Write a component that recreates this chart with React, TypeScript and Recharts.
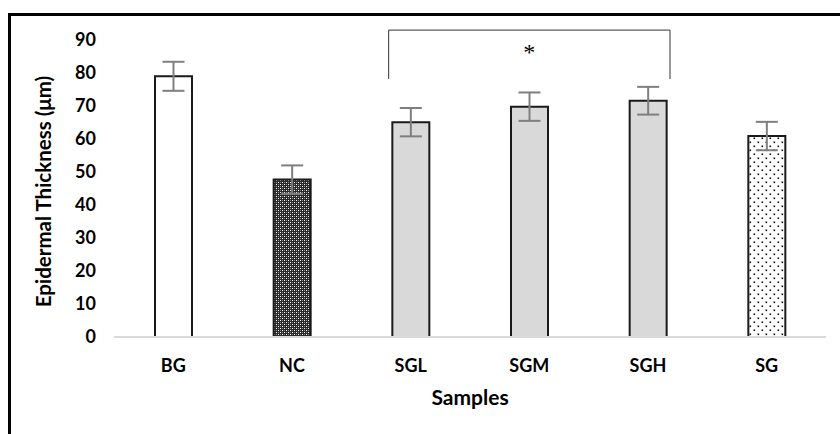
import React from "react"
import {
  Bar,
  BarChart,
  Cell,
  ErrorBar,
  Label,
  ReferenceDot,
  ReferenceLine,
  XAxis,
  YAxis,
} from "recharts"

// 샘플별 표피 두께 (μm) — 그림에서 읽은 값
const categories = ["BG", "NC", "SGL", "SGM", "SGH", "SG"]
const means = [79.0, 47.7, 65.1, 69.8, 71.6, 60.9]
const errors = [4.4, 4.3, 4.3, 4.3, 4.2, 4.3]
const yTicks = [0, 10, 20, 30, 40, 50, 60, 70, 80, 90]

// 유의성 표시 (SGL ~ SGH 구간)
const bracketFrom = "SGL"
const bracketTo = "SGH"
const starAt = "SGM"
const bracketTop = 93
const bracketLegBottom = 78.2
const starY = 87.6

const FONT = "Lato, 'Open Sans', sans-serif"
const WIDTH = 840
const HEIGHT = 434
const BRACKET_PAD = 22 // 막대 중심에서 브래킷 다리까지(px)
const BRACKET_COLOR = "#333"

const fills = ["#ffffff", "url(#checker)", "#d9d9d9", "#d9d9d9", "#d9d9d9", "url(#dots)"]

const data = categories.map((name, i) => ({ name, value: means[i], err: errors[i] }))

// 카테고리 중심 좌표를 받아 좌우로 밀어 그리는 선
const shifted = (dx1: number, dx2: number) => (p: any) => (
  <line
    x1={p.x1 + dx1}
    y1={p.y1}
    x2={p.x2 + dx2}
    y2={p.y2}
    stroke={BRACKET_COLOR}
    strokeWidth={1}
  />
)

function YTitle({ viewBox }: any) {
  const cx = viewBox.x + 43
  const cy = viewBox.y + viewBox.height / 2 + 3
  return (
    <text
      x={cx}
      y={cy}
      transform={`rotate(-90, ${cx}, ${cy})`}
      textAnchor="middle"
      dominantBaseline="central"
      fontSize={20.5}
      fontWeight={700}
      fontFamily={FONT}
      fill="#000"
    >
      Epidermal Thickness (μm)
    </text>
  )
}

function XTitle({ viewBox }: any) {
  return (
    <text
      x={viewBox.x + viewBox.width / 2}
      y={viewBox.y + 68}
      textAnchor="middle"
      fontSize={21}
      fontWeight={700}
      fontFamily={FONT}
      fill="#000"
    >
      Samples
    </text>
  )
}

function Star({ viewBox }: any) {
  return (
    <text
      x={viewBox.x + viewBox.width / 2}
      y={viewBox.y + viewBox.height / 2 + 12}
      textAnchor="middle"
      fontSize={24}
      fontFamily="'Liberation Serif', serif"
      fill="#000"
    >
      *
    </text>
  )
}

export default function App() {
  return (
    <div style={{ position: "absolute", left: 0, top: 0, width: WIDTH, height: HEIGHT, background: "#fff", overflow: "hidden" }}>
      <div
        style={{
          position: "absolute",
          left: 8,
          top: 13,
          width: WIDTH,
          height: HEIGHT,
          borderLeft: "3px solid #000",
          borderTop: "3px solid #000",
        }}
      />
      <div style={{ position: "absolute", left: 0, top: 0 }}>
        <BarChart
          width={WIDTH}
          height={HEIGHT}
          data={data}
          margin={{ top: 40, right: 14, bottom: 0, left: 0 }}
          style={{ fontFamily: FONT }}
        >
          <defs>
            <pattern id="checker" width="4" height="4" patternUnits="userSpaceOnUse">
              <rect width="4" height="4" fill="#2a2a2a" />
              <rect x="0" y="0" width="1" height="1" fill="#ffffff" />
              <rect x="2" y="2" width="1" height="1" fill="#ffffff" />
              <rect x="2" y="0" width="1" height="1" fill="#8a8a8a" />
              <rect x="0" y="2" width="1" height="1" fill="#8a8a8a" />
            </pattern>
            <pattern id="dots" width="8" height="8" patternUnits="userSpaceOnUse">
              <rect width="8" height="8" fill="#ffffff" />
              <rect x="1.5" y="1.5" width="1.6" height="1.6" fill="#111" />
              <rect x="5.5" y="5.5" width="1.6" height="1.6" fill="#111" />
            </pattern>
          </defs>
          <XAxis
            dataKey="name"
            axisLine={{ stroke: "#d9d9d9", strokeWidth: 2 }}
            tickLine={false}
            tickSize={6}
            tickMargin={16}
            height={97}
            interval={0}
            tick={{ fontSize: 18, fontWeight: 700, fill: "#000", fontFamily: FONT }}
          >
            <Label content={<XTitle />} />
          </XAxis>
          <YAxis
            domain={[0, 90]}
            ticks={yTicks}
            axisLine={false}
            tickLine={false}
            tickSize={6}
            tickMargin={12}
            width={114}
            tick={{ fontSize: 18, fontWeight: 700, fill: "#000", fontFamily: FONT }}
          >
            <Label content={<YTitle />} />
          </YAxis>
          <Bar dataKey="value" barSize={37} stroke="#1a1a1a" strokeWidth={2} isAnimationActive={false}>
            {data.map((d, i) => (
              <Cell key={d.name} fill={fills[i]} />
            ))}
            <ErrorBar dataKey="err" width={11} stroke="#7f7f7f" strokeWidth={2} isAnimationActive={false} />
          </Bar>
          <ReferenceLine
            ifOverflow="visible"
            segment={[{ x: bracketFrom, y: bracketLegBottom }, { x: bracketFrom, y: bracketTop }]}
            shape={shifted(-BRACKET_PAD, -BRACKET_PAD)}
          />
          <ReferenceLine
            ifOverflow="visible"
            segment={[{ x: bracketFrom, y: bracketTop }, { x: bracketTo, y: bracketTop }]}
            shape={shifted(-BRACKET_PAD, BRACKET_PAD)}
          />
          <ReferenceLine
            ifOverflow="visible"
            segment={[{ x: bracketTo, y: bracketTop }, { x: bracketTo, y: bracketLegBottom }]}
            shape={shifted(BRACKET_PAD, BRACKET_PAD)}
          />
          <ReferenceDot
            x={starAt}
            y={starY}
            r={0}
            fill="none"
            stroke="none"
            ifOverflow="visible"
            label={<Star />}
          />
        </BarChart>
      </div>
    </div>
  )
}
